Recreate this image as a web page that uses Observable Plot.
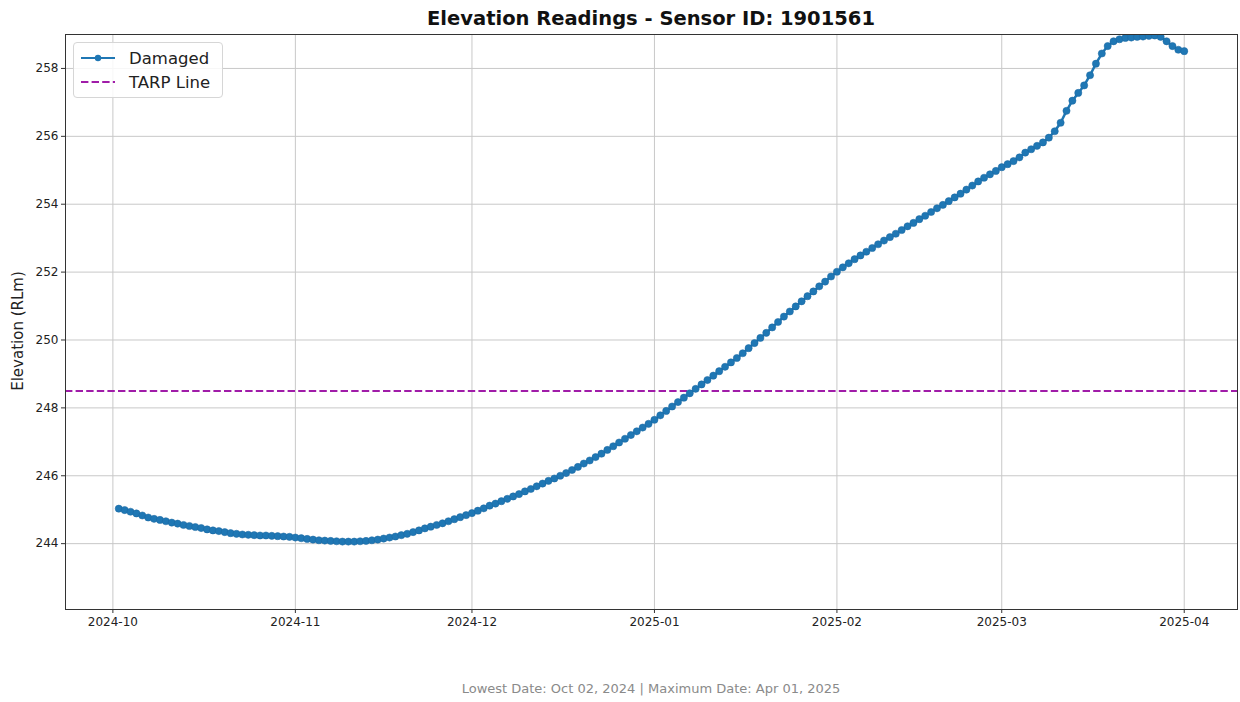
<!DOCTYPE html>
<html>
<head>
<meta charset="utf-8">
<script src="https://cdn.jsdelivr.net/npm/d3@7"></script>
<script src="https://cdn.jsdelivr.net/npm/@observablehq/plot@0.6"></script>
<style>
  html, body { margin: 0; padding: 0; background: #fff; }
  body { width: 1240px; height: 702px; position: relative; overflow: hidden; font-family: "DejaVu Sans", sans-serif; }
  #title { position: absolute; left: 65px; width: 1172px; top: 7px; text-align: center; font-weight: bold; font-size: 19.5px; color: #111; }
  #chart { position: absolute; left: 0; top: 30px; }
  #ylabel { position: absolute; left: 18px; top: 331px; transform: translate(-50%, -50%) rotate(-90deg); font-size: 15px; color: #222; white-space: nowrap; }
  #caption { position: absolute; left: 65px; width: 1172px; top: 681px; text-align: center; font-size: 13px; color: #8a8a8a; }
  #legend { position: absolute; left: 73px; top: 42px; width: 150px; height: 56px; border: 1px solid #d6d6d6; border-radius: 4px; background: rgba(255,255,255,0.85); box-sizing: border-box; }
  .lg-row { position: absolute; left: 6px; height: 22px; display: flex; align-items: center; font-size: 16.5px; color: #222; }
  .lg-row svg { margin-right: 13px; }
</style>
</head>
<body>
<div id="title"></div>
<div id="chart"></div>
<div id="ylabel"></div>
<div id="caption"></div>
<div id="legend"></div>
<script>
// ---- data ----
const titleText = "Elevation Readings - Sensor ID: 1901561";
const yLabelText = "Elevation (RLm)";
const captionText = "Lowest Date: Oct 02, 2024 | Maximum Date: Apr 01, 2025";
const seriesName = "Damaged";
const tarpName = "TARP Line";
const startDate = "2024-10-02"; // daily readings
const elevations = [
  245.03, 244.99, 244.94, 244.89, 244.83, 244.77, 244.73, 244.70, 244.66, 244.62,
  244.59, 244.55, 244.52, 244.49, 244.46, 244.42, 244.39, 244.37, 244.34, 244.31,
  244.29, 244.27, 244.26, 244.25, 244.24, 244.24, 244.23, 244.22, 244.21, 244.20,
  244.18, 244.16, 244.14, 244.12, 244.10, 244.09, 244.08, 244.07, 244.06, 244.06,
  244.06, 244.07, 244.08, 244.10, 244.12, 244.15, 244.18, 244.21, 244.25, 244.29,
  244.34, 244.39, 244.45, 244.50, 244.55, 244.60, 244.66, 244.72, 244.78, 244.84,
  244.90, 244.97, 245.04, 245.12, 245.18, 245.25, 245.32, 245.39, 245.46, 245.54,
  245.61, 245.69, 245.77, 245.85, 245.92, 246.00, 246.08, 246.17, 246.26, 246.36,
  246.45, 246.55, 246.65, 246.76, 246.87, 246.98, 247.09, 247.20, 247.31, 247.42,
  247.53, 247.65, 247.78, 247.91, 248.04, 248.17, 248.30, 248.43, 248.56, 248.69,
  248.82, 248.95, 249.08, 249.21, 249.34, 249.47, 249.61, 249.76, 249.91, 250.06,
  250.21, 250.37, 250.53, 250.69, 250.84, 250.99, 251.14, 251.29, 251.43, 251.58,
  251.72, 251.87, 252.01, 252.14, 252.26, 252.38, 252.49, 252.60, 252.71, 252.82,
  252.93, 253.03, 253.13, 253.24, 253.35, 253.45, 253.56, 253.66, 253.77, 253.88,
  253.98, 254.09, 254.20, 254.31, 254.43, 254.55, 254.67, 254.78, 254.88, 254.98,
  255.09, 255.18, 255.27, 255.38, 255.52, 255.62, 255.72, 255.82, 255.96, 256.15,
  256.40, 256.75, 257.05, 257.28, 257.50, 257.80, 258.14, 258.44, 258.66, 258.80,
  258.86, 258.90, 258.91, 258.93, 258.94, 258.96, 258.97, 258.93, 258.80, 258.66,
  258.55, 258.51
];
const tarpLevel = 248.5;
const yDomain = [242.06, 259.0];
const yTicks = [244, 246, 248, 250, 252, 254, 256, 258];
const xTickLabels = ["2024-10", "2024-11", "2024-12", "2025-01", "2025-02", "2025-03", "2025-04"];

// ---- colors ----
const lineColor = "#1f77b4";
const tarpColor = "#a01ca8";

// ---- build ----
const parseMonth = d3.utcParse("%Y-%m");
const start = d3.utcParse("%Y-%m-%d")(startDate);
const data = elevations.map((v, i) => ({ date: d3.utcDay.offset(start, i), value: v }));
const xTicks = xTickLabels.map(parseMonth);
const first = data[0].date, last = data[data.length - 1].date;
const span = last - first;
const xDomain = [new Date(+first - 0.05 * span), new Date(+last + 0.05 * span)];

const chart = Plot.plot({
  width: 1240,
  height: 610,
  marginTop: 4,
  marginBottom: 31,
  marginLeft: 65,
  marginRight: 3,
  style: { fontFamily: "DejaVu Sans, sans-serif", fontSize: "12px", color: "#222", background: "transparent" },
  x: { type: "utc", domain: xDomain },
  y: { domain: yDomain },
  marks: [
    Plot.gridX(xTicks, { stroke: "#c8c8c8", strokeOpacity: 1 }),
    Plot.gridY(yTicks, { stroke: "#c8c8c8", strokeOpacity: 1 }),
    Plot.ruleY([tarpLevel], { stroke: tarpColor, strokeWidth: 2, strokeDasharray: "7.4,3.2" }),
    Plot.line(data, { x: "date", y: "value", stroke: lineColor, strokeWidth: 2.5, clip: true }),
    Plot.dot(data, { x: "date", y: "value", fill: lineColor, stroke: "#1a66a0", strokeWidth: 0.5, r: 3.6, clip: true }),
    Plot.axisX(xTicks, { tickFormat: d3.utcFormat("%Y-%m"), tickSize: 4, tickPadding: 4, label: null, stroke: "#333" }),
    Plot.axisY(yTicks, { tickSize: 4, tickPadding: 3, label: null, stroke: "#333" }),
    Plot.frame({ stroke: "#333", strokeWidth: 1 })
  ]
});
document.getElementById("chart").appendChild(chart);

document.getElementById("title").textContent = titleText;
document.getElementById("ylabel").textContent = yLabelText;
document.getElementById("caption").textContent = captionText;

const legend = document.getElementById("legend");
const row1 = document.createElement("div");
row1.className = "lg-row"; row1.style.top = "4px";
row1.innerHTML = `<svg width="36" height="12"><line x1="1" x2="35" y1="6" y2="6" stroke="${lineColor}" stroke-width="2"/><circle cx="18" cy="6" r="3.2" fill="${lineColor}"/></svg>`;
row1.appendChild(document.createTextNode(seriesName));
const row2 = document.createElement("div");
row2.className = "lg-row"; row2.style.top = "28px";
row2.innerHTML = `<svg width="36" height="12"><line x1="1" x2="35" y1="6" y2="6" stroke="${tarpColor}" stroke-width="2" stroke-dasharray="7.4,3.2"/></svg>`;
row2.appendChild(document.createTextNode(tarpName));
legend.appendChild(row1);
legend.appendChild(row2);
</script>
</body>
</html>
